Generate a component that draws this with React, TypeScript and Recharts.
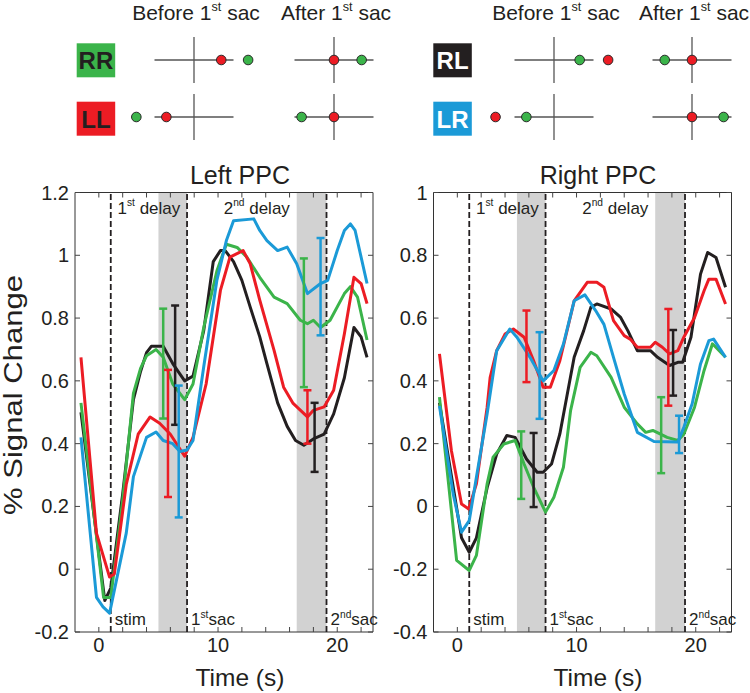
import React from 'react'
import {
  ComposedChart,
  ErrorBar,
  Line,
  ReferenceArea,
  ReferenceLine,
  Scatter,
  ScatterChart,
  XAxis,
  YAxis,
} from 'recharts'

type Pt = [number, number]
type Err = [number, number, number] // time, low, high

const FONT = '"Liberation Sans", Arial, Helvetica, sans-serif'
const INK = '#231f20'

const conditions = ['RR', 'LL', 'RL', 'LR']
const condColors: Record<string, string> = { RR: '#3bb44a', LL: '#ec1c24', RL: '#231f20', LR: '#1b9ad7' }
const condText: Record<string, string> = { RR: '#231f20', LL: '#231f20', RL: '#ffffff', LR: '#ffffff' }
const drawOrder = ['RL', 'RR', 'LL', 'LR']

// trial events (s)
const stimTime = 1
const sac1Time = 7.4
const sac2Time = 19.1
const shade1: Pt = [5, 7.4]
const shade2: Pt = [16.6, 19.1]

const xTicks = [0, 2, 4, 6, 8, 10, 12, 14, 16, 18, 20, 22]
const xTickLabels = [0, 10, 20]
const leftYTicks = [-0.2, 0, 0.2, 0.4, 0.6, 0.8, 1, 1.2]
const rightYTicks = [-0.4, -0.2, 0, 0.2, 0.4, 0.6, 0.8, 1]

// Left PPC time courses
const leftRR: Pt[] = [[-1.5, 0.53], [0.4, -0.09], [1.0, -0.09], [2.0, 0.22], [2.9, 0.56], [3.5, 0.64], [4.0, 0.68], [4.8, 0.7], [5.4, 0.675], [6.2, 0.59], [7.2, 0.54], [7.9, 0.59], [8.8, 0.77], [9.9, 0.95], [10.7, 1.035], [11.6, 1.025], [12.4, 0.995], [13.5, 0.93], [14.7, 0.867], [15.8, 0.846], [16.9, 0.793], [17.5, 0.782], [18.0, 0.793], [18.6, 0.77], [19.4, 0.793], [20.6, 0.878], [21.1, 0.9], [21.7, 0.867], [22.5, 0.73]]
const leftLL: Pt[] = [[-1.5, 0.675], [-0.2, 0.115], [0.9, -0.025], [1.3, -0.015], [2.3, 0.27], [3.3, 0.43], [4.3, 0.485], [5.1, 0.465], [6.0, 0.43], [7.2, 0.36], [7.9, 0.42], [9.0, 0.59], [10.2, 0.888], [11.0, 0.994], [12.1, 1.015], [12.7, 0.973], [13.5, 0.857], [14.7, 0.697], [15.5, 0.58], [16.3, 0.528], [17.5, 0.485], [18.0, 0.506], [18.9, 0.517], [19.7, 0.57], [20.6, 0.75], [21.4, 0.93], [22.0, 0.91], [22.5, 0.846]]
const leftRL: Pt[] = [[-1.5, 0.5], [0.5, -0.1], [1.0, -0.06], [2.0, 0.24], [2.9, 0.54], [3.5, 0.63], [4.0, 0.69], [4.4, 0.71], [5.4, 0.71], [6.2, 0.655], [7.2, 0.6], [7.9, 0.615], [8.8, 0.76], [9.6, 0.98], [10.2, 1.015], [10.6, 1.015], [11.3, 0.98], [12.0, 0.92], [12.7, 0.835], [13.5, 0.74], [14.1, 0.655], [15.0, 0.53], [15.8, 0.455], [16.5, 0.41], [17.2, 0.395], [18.0, 0.415], [18.9, 0.43], [19.7, 0.495], [20.6, 0.61], [21.4, 0.77], [22.0, 0.74], [22.5, 0.675]]
const leftLR: Pt[] = [[-1.5, 0.42], [-0.2, -0.09], [0.35, -0.12], [0.9, -0.14], [2.3, 0.115], [2.9, 0.295], [4.0, 0.42], [4.8, 0.437], [5.4, 0.41], [6.2, 0.4], [6.8, 0.375], [7.4, 0.38], [7.9, 0.41], [8.8, 0.645], [9.9, 0.92], [10.7, 1.047], [11.3, 1.11], [13.0, 1.116], [13.5, 1.079], [14.1, 1.047], [15.0, 1.015], [15.8, 1.026], [16.6, 0.973], [17.5, 0.878], [18.6, 0.91], [19.2, 0.92], [20.0, 1.015], [20.6, 1.079], [21.1, 1.1], [21.5, 1.079], [22.5, 0.91]]

const leftErrRR: Err[] = [[5.4, 0.48, 0.83], [17.2, 0.58, 0.99]]
const leftErrLL: Err[] = [[5.8, 0.23, 0.635], [17.5, 0.4, 0.57]]
const leftErrRL: Err[] = [[6.4, 0.46, 0.84], [18.1, 0.31, 0.53]]
const leftErrLR: Err[] = [[6.7, 0.165, 0.585], [18.6, 0.745, 1.055]]

// Right PPC time courses
const rightRR: Pt[] = [[-1.5, 0.348], [-0.06, -0.172], [1.0, -0.204], [1.6, -0.156], [2.5, 0.072], [3.0, 0.157], [3.9, 0.199], [4.85, 0.21], [5.6, 0.135], [6.4, 0.061], [7.4, -0.018], [8.1, 0.029], [8.9, 0.125], [9.5, 0.305], [10.3, 0.443], [11.2, 0.491], [11.7, 0.48], [12.9, 0.411], [14.0, 0.316], [15.1, 0.263], [15.8, 0.236], [16.4, 0.242], [17.6, 0.22], [18.5, 0.21], [19.0, 0.23], [19.9, 0.316], [20.7, 0.433], [21.4, 0.518], [22.5, 0.475]]
const rightLL: Pt[] = [[-1.5, 0.486], [-0.5, 0.178], [0.35, 0.008], [0.95, -0.008], [1.6, 0.072], [2.5, 0.316], [2.75, 0.41], [3.3, 0.496], [4.0, 0.549], [4.7, 0.565], [5.6, 0.539], [6.4, 0.464], [7.2, 0.38], [7.8, 0.38], [8.6, 0.464], [9.8, 0.655], [10.9, 0.714], [11.7, 0.714], [12.3, 0.698], [13.1, 0.592], [14.0, 0.544], [14.5, 0.533], [15.1, 0.507], [16.2, 0.507], [16.6, 0.523], [17.2, 0.507], [17.8, 0.486], [18.5, 0.496], [19.0, 0.539], [19.9, 0.602], [20.7, 0.687], [21.1, 0.724], [21.7, 0.724], [22.5, 0.645]]
const rightRL: Pt[] = [[-1.5, 0.33], [0.35, -0.1], [1.0, -0.146], [1.6, -0.1], [2.5, 0.06], [3.3, 0.167], [4.15, 0.226], [4.85, 0.22], [5.8, 0.151], [6.7, 0.109], [7.2, 0.109], [7.9, 0.135], [8.6, 0.231], [9.8, 0.475], [10.6, 0.56], [11.2, 0.634], [11.7, 0.645], [12.9, 0.629], [13.7, 0.602], [14.3, 0.56], [15.1, 0.496], [16.2, 0.496], [16.8, 0.475], [17.8, 0.449], [18.5, 0.459], [18.9, 0.459], [19.6, 0.539], [20.4, 0.74], [21.0, 0.809], [21.7, 0.793], [22.5, 0.698]]
const rightLR: Pt[] = [[-1.5, 0.32], [-0.35, 0.04], [0.35, -0.082], [1.0, -0.045], [1.6, 0.093], [2.5, 0.295], [3.3, 0.496], [4.4, 0.565], [5.0, 0.539], [6.1, 0.475], [7.2, 0.4], [8.1, 0.433], [8.9, 0.517], [9.8, 0.655], [10.7, 0.674], [11.6, 0.624], [12.3, 0.58], [13.1, 0.475], [14.0, 0.358], [15.1, 0.236], [16.5, 0.207], [18.5, 0.205], [19.0, 0.252], [19.7, 0.327], [20.4, 0.454], [21.1, 0.528], [21.5, 0.533], [22.5, 0.475]]

const rightErrRR: Err[] = [[5.36, 0.024, 0.239], [17.1, 0.106, 0.348]]
const rightErrLL: Err[] = [[5.8, 0.396, 0.624], [17.7, 0.321, 0.629]]
const rightErrRL: Err[] = [[6.4, -0.002, 0.234], [18.1, 0.353, 0.562]]
const rightErrLR: Err[] = [[6.9, 0.279, 0.555], [18.6, 0.17, 0.289]]

// target diagrams (horizontal position, fixation = red, target = green), order of conditions
const fixBefore = [0.69, -0.7, 1.37, -1.48]
const targetBefore = [1.37, -1.46, 0.65, -0.7]
const fixAfter = [0, 0, 0, 0]
const targetAfter = [0.7, -0.82, -0.69, 0.8]

const PLOT_H = 439.5
const PLOT_W = 298

function SupText({ x, y, base, sup, rest, size, anchor = 'start' }: any) {
  const shift = size * 0.42
  return (
    <text x={x} y={y} fontSize={size} textAnchor={anchor} fontFamily={FONT} fill={INK}>
      {base}
      <tspan dy={-shift} fontSize={size * 0.6}>{sup}</tspan>
      <tspan dy={shift}>{rest}</tspan>
    </text>
  )
}

function XTick({ x, y, payload }: any) {
  const showLabel = xTickLabels.includes(payload.value)
  return (
    <g>
      <line x1={x} x2={x} y1={y} y2={y - 5} stroke="#444" strokeWidth={1} />
      <line x1={x} x2={x} y1={y - PLOT_H} y2={y - PLOT_H + 5} stroke="#444" strokeWidth={1} />
      {showLabel && (
        <text x={x} y={y + 20} textAnchor="middle" fontSize={20} fontFamily={FONT} fill={INK}>
          {payload.value}
        </text>
      )}
    </g>
  )
}

function YTick({ x, y, payload }: any) {
  return (
    <g>
      <line x1={x} x2={x + 5} y1={y} y2={y} stroke="#444" strokeWidth={1} />
      <line x1={x + PLOT_W} x2={x + PLOT_W - 5} y1={y} y2={y} stroke="#444" strokeWidth={1} />
      <text x={x - 6} y={y + 7} textAnchor="end" fontSize={20} fontFamily={FONT} fill={INK}>
        {String(payload.value)}
      </text>
    </g>
  )
}

function toRows(pts: Pt[]) {
  return pts.map(([t, v]) => ({ t, v }))
}

function toErrRows(errs: Err[]) {
  return errs.map(([t, lo, hi]) => ({ t, v: (lo + hi) / 2, e: (hi - lo) / 2 }))
}

function Panel({
  series,
  errors,
  yDomain,
  yTicks,
  width,
  marginLeft,
  marginRight,
}: {
  series: Record<string, Pt[]>
  errors: Record<string, Err[]>
  yDomain: [number, number]
  yTicks: number[]
  width: number
  marginLeft: number
  marginRight: number
}) {
  return (
    <ComposedChart width={width} height={543} margin={{ top: 42.5, right: marginRight, bottom: 31, left: marginLeft }}>
      <XAxis
        dataKey="t"
        type="number"
        domain={[-2, 23]}
        ticks={xTicks}
        interval={0}
        tickSize={0}
        tickMargin={0}
        tickLine={false}
        axisLine={false}
        height={30}
        tick={(p: any) => <XTick {...p} />}
      />
      <YAxis
        type="number"
        domain={yDomain}
        ticks={yTicks}
        interval={0}
        tickSize={0}
        tickMargin={0}
        tickLine={false}
        axisLine={false}
        width={40}
        tick={(p: any) => <YTick {...p} />}
      />
      <ReferenceArea x1={shade1[0]} x2={shade1[1]} fill="#d2d2d2" fillOpacity={1} stroke="none" />
      <ReferenceArea x1={shade2[0]} x2={shade2[1]} fill="#d2d2d2" fillOpacity={1} stroke="none" />
      <ReferenceArea
        x1={stimTime}
        x2={sac1Time}
        fill="none"
        stroke="none"
        label={(p: any) => (
          <SupText x={p.viewBox.x + p.viewBox.width / 2} y={p.viewBox.y + 21} base="1" sup="st" rest=" delay" size={17} anchor="middle" />
        )}
      />
      <ReferenceArea
        x1={sac1Time}
        x2={sac2Time}
        fill="none"
        stroke="none"
        label={(p: any) => (
          <SupText x={p.viewBox.x + p.viewBox.width / 2} y={p.viewBox.y + 21} base="2" sup="nd" rest=" delay" size={17} anchor="middle" />
        )}
      />
      <ReferenceLine
        x={stimTime}
        stroke={INK}
        strokeWidth={1.8}
        strokeDasharray="6 3"
        label={(p: any) => (
          <text x={p.viewBox.x + 4} y={p.viewBox.y + p.viewBox.height - 7} fontSize={17} fontFamily={FONT} fill={INK}>
            stim
          </text>
        )}
      />
      <ReferenceLine
        x={sac1Time}
        stroke={INK}
        strokeWidth={1.8}
        strokeDasharray="6 3"
        label={(p: any) => (
          <SupText x={p.viewBox.x + 4} y={p.viewBox.y + p.viewBox.height - 7} base="1" sup="st" rest="sac" size={17} />
        )}
      />
      <ReferenceLine
        x={sac2Time}
        stroke={INK}
        strokeWidth={1.8}
        strokeDasharray="6 3"
        label={(p: any) => (
          <SupText x={p.viewBox.x + 4} y={p.viewBox.y + p.viewBox.height - 7} base="2" sup="nd" rest="sac" size={17} />
        )}
      />
      {drawOrder.map((c) => (
        <Line
          key={c}
          data={toRows(series[c])}
          dataKey="v"
          type="linear"
          stroke={condColors[c]}
          strokeWidth={3}
          strokeLinejoin="round"
          dot={false}
          activeDot={false}
          isAnimationActive={false}
        />
      ))}
      {drawOrder.map((c) => (
        <Scatter
          key={'e' + c}
          data={toErrRows(errors[c])}
          dataKey="v"
          shape={() => <g />}
          isAnimationActive={false}
        >
          <ErrorBar dataKey="e" direction="y" width={4} stroke={condColors[c]} strokeWidth={2.5} isAnimationActive={false} />
        </Scatter>
      ))}
      <ReferenceArea x1={-2} x2={23} y1={yDomain[0]} y2={yDomain[1]} fill="none" stroke="#333" strokeWidth={1} />
    </ComposedChart>
  )
}

function Dot({ cx, cy, color }: any) {
  return <circle cx={cx} cy={cy} r={4.8} fill={color} stroke="#2a2a2a" strokeWidth={1} />
}

function TargetDiagram({ cx, cy, fix, target }: { cx: number; cy: number; fix: number; target: number }) {
  return (
    <div style={{ position: 'absolute', left: cx - 70, top: cy - 28 }}>
      <ScatterChart width={140} height={56} margin={{ top: 0, right: 0, bottom: 0, left: 0 }}>
        <XAxis type="number" dataKey="x" domain={[-1.772, 1.772]} hide />
        <YAxis type="number" dataKey="y" domain={[-0.709, 0.709]} hide />
        <ReferenceLine segment={[{ x: -1, y: 0 }, { x: 1, y: 0 }]} stroke="#555" strokeWidth={1.3} />
        <ReferenceLine segment={[{ x: 0, y: -0.58 }, { x: 0, y: 0.58 }]} stroke="#555" strokeWidth={1.3} />
        <Scatter data={[{ x: target, y: 0 }]} shape={(p: any) => <Dot {...p} color="#3bb44a" />} isAnimationActive={false} />
        <Scatter data={[{ x: fix, y: 0 }]} shape={(p: any) => <Dot {...p} color="#ec1c24" />} isAnimationActive={false} />
      </ScatterChart>
    </div>
  )
}

const diagramCenters = [
  { before: [194.3, 60], after: [334, 60] },
  { before: [194.3, 116.7], after: [334, 116.7] },
  { before: [554.3, 60], after: [691.7, 60] },
  { before: [554.3, 117], after: [691.7, 117] },
]
const boxPos = [
  [76.7, 43.3],
  [76.7, 101.7],
  [433.3, 43.3],
  [433.3, 101.7],
]

export default function App() {
  const leftSeries = { RR: leftRR, LL: leftLL, RL: leftRL, LR: leftLR }
  const leftErrors = { RR: leftErrRR, LL: leftErrLL, RL: leftErrRL, LR: leftErrLR }
  const rightSeries = { RR: rightRR, LL: rightLL, RL: rightRL, LR: rightLR }
  const rightErrors = { RR: rightErrRR, LL: rightErrLL, RL: rightErrRL, LR: rightErrLR }

  return (
    <div style={{ position: 'absolute', left: 0, top: 0, width: 750, height: 693, background: '#fff', overflow: 'hidden' }}>
      <div style={{ position: 'absolute', left: 0, top: 150 }}>
        <Panel series={leftSeries} errors={leftErrors} yDomain={[-0.2, 1.2]} yTicks={leftYTicks} width={390} marginLeft={35} marginRight={17} />
      </div>
      <div style={{ position: 'absolute', left: 390, top: 150 }}>
        <Panel series={rightSeries} errors={rightErrors} yDomain={[-0.4, 1]} yTicks={rightYTicks} width={360} marginLeft={3.5} marginRight={18.5} />
      </div>

      {conditions.map((c, i) => (
        <React.Fragment key={c}>
          <TargetDiagram cx={diagramCenters[i].before[0]} cy={diagramCenters[i].before[1]} fix={fixBefore[i]} target={targetBefore[i]} />
          <TargetDiagram cx={diagramCenters[i].after[0]} cy={diagramCenters[i].after[1]} fix={fixAfter[i]} target={targetAfter[i]} />
        </React.Fragment>
      ))}

      <svg width={750} height={693} style={{ position: 'absolute', left: 0, top: 0, pointerEvents: 'none' }}>
        <SupText x={196} y={20} base="Before 1" sup="st" rest=" sac" size={21} anchor="middle" />
        <SupText x={336} y={20} base="After 1" sup="st" rest=" sac" size={21} anchor="middle" />
        <SupText x={556} y={20} base="Before 1" sup="st" rest=" sac" size={21} anchor="middle" />
        <SupText x={694} y={20} base="After 1" sup="st" rest=" sac" size={21} anchor="middle" />

        {conditions.map((c, i) => (
          <g key={c}>
            <rect x={boxPos[i][0]} y={boxPos[i][1]} width={38.5} height={34} fill={condColors[c]} />
            <text
              x={boxPos[i][0] + 19.25}
              y={boxPos[i][1] + 26}
              textAnchor="middle"
              fontSize={24}
              fontWeight="bold"
              fontFamily={FONT}
              fill={condText[c]}
            >
              {c}
            </text>
          </g>
        ))}

        <text x={240} y={184} textAnchor="middle" fontSize={25} fontFamily={FONT} fill={INK}>Left PPC</text>
        <text x={598} y={184} textAnchor="middle" fontSize={25} fontFamily={FONT} fill={INK}>Right PPC</text>
        <text x={240} y={686} textAnchor="middle" fontSize={24.5} fontFamily={FONT} fill={INK}>Time (s)</text>
        <text x={598} y={686} textAnchor="middle" fontSize={24.5} fontFamily={FONT} fill={INK}>Time (s)</text>
        <text
          x={22}
          y={395}
          transform="rotate(-90 22 395)"
          textAnchor="middle"
          fontSize={25}
          textLength={240}
          lengthAdjust="spacingAndGlyphs"
          fontFamily={FONT}
          fill={INK}
        >
          % Signal Change
        </text>
      </svg>
    </div>
  )
}
